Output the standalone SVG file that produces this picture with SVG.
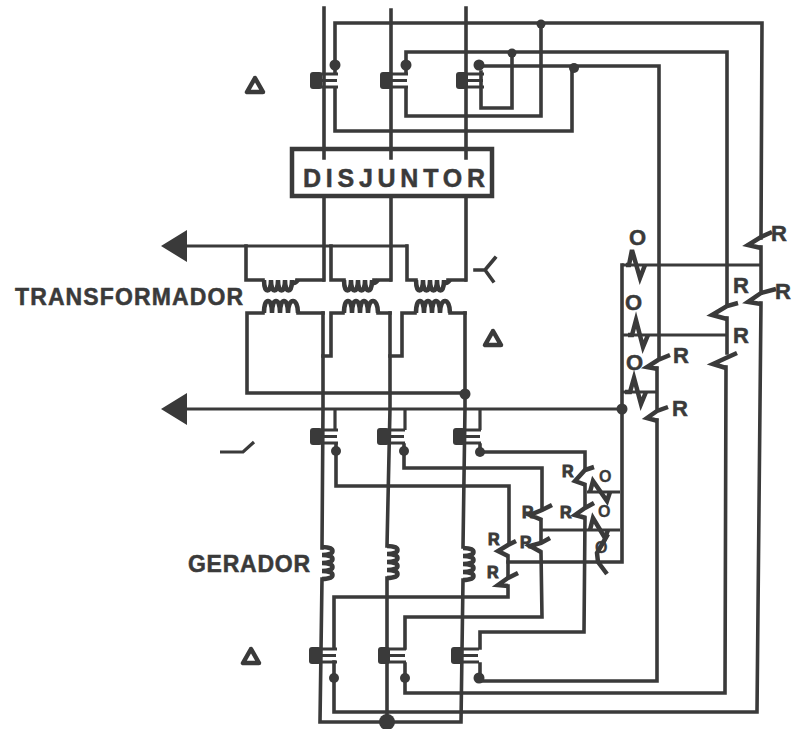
<svg xmlns="http://www.w3.org/2000/svg" xmlns:xlink="http://www.w3.org/1999/xlink" width="794" height="729" viewBox="0 0 794 729">
<style>
.w{fill:none;stroke:#3a3a3a;stroke-width:3.6;stroke-linejoin:miter;stroke-linecap:square}
.t{fill:none;stroke:#3a3a3a;stroke-width:3.2}
.c{fill:none;stroke:#3a3a3a;stroke-width:4.5}
.z{fill:none;stroke:#3a3a3a;stroke-width:4.5;stroke-linejoin:miter}
.d{fill:#3a3a3a}
text{font-family:"Liberation Sans",Arial,sans-serif;font-weight:bold;fill:#3a3a3a;stroke:#3a3a3a;stroke-width:.5}
.big{font-size:23px}
.box{font-size:25px}
.r{font-size:22px}
.s{font-size:16px;stroke-width:1}
</style>
<defs>
<marker id="head" markerUnits="userSpaceOnUse" markerWidth="27" markerHeight="34" refX="0" refY="17" orient="auto"><path d="M0,1 L26,17 L0,33 Z" fill="#3a3a3a"/></marker>
<g id="ct"><rect x="0" y="0" width="12" height="17" rx="3" class="d"/><path d="M4,2 H28 M4,8.500 H27 M4,15 H28" stroke="#3a3a3a" stroke-width="3.200" fill="none"/></g>
<path id="dn" class="c" d="M0,0 c0,14 7,14 7,0 c0,14 7,14 7,0 c0,14 7,14 7,0 c0,14 7,14 7,0 c0,4 3,4 6,0"/>
<path id="up" class="c" d="M0,0 c0,-16 8,-16 8,0 c0,-16 8,-16 8,0 c0,-16 8,-16 8,0 c0,-16 10,-16 10,0"/>
<path id="gc" class="c" d="M0,0 c14,0 14,8 0,8 c14,0 14,8 0,8 c14,0 14,8 0,8 c14,0 14,8 0,8"/>
<path id="tri" d="M0,-7 L-8,7 H8 Z" fill="none" stroke="#3a3a3a" stroke-width="4.500" stroke-linejoin="round"/>
</defs>
<rect width="794" height="729" fill="#fff"/>

<g id="connectors">
<path class="w" d="M324,8 V158 M391,10 V158 M466,8 V158"/>
<path class="w" d="M324,197 V280 M391,197 V280 M466,197 V280"/>
<path class="w" d="M323,313 V408 L322,548 M322,579 L320,722 H461 L463,580 M463,547 L465,408 V313 M390,313 V408 L387,546 M387,578 V728"/>
<path class="w" d="M335,72 V23 H762 L761,238"/>
<path class="w" d="M761,247 V290"/>
<path class="w" d="M761,303 L757,712 H334 V662"/>
<path class="w" d="M335,88 V131 H572 V68"/>
<path class="w" d="M479,66 H659 V358"/>
<path class="w" d="M406,72 V52 H727 V304"/>
<path class="w" d="M406,88 V116 H541 V25"/>
<path class="w" d="M481,72 V108 H512 V53"/>
<path class="t" d="M622,265 H761 M622,335 H727 M622,392 H657"/>
<path class="w" d="M622,265 V562 H508"/>
<path class="w" d="M727,318 V353 M726,367 L725,693 H405 V664"/>
<path class="w" d="M657,368 V408 M657,420 V681 H480 V664"/>
<path class="t" d="M408,246 H187" marker-end="url(#head)"/>
<path class="w" d="M246,246 V280 H263 M297,280 H323"/>
<path class="w" d="M331,246 V280 H344 M374,280 H390"/>
<path class="w" d="M407,246 V280 H416 M448,280 H465"/>
<path class="w" d="M263,313 H247 V393 H465 M298,313 H323"/>
<path class="w" d="M343,313 H331 V356 H323 M378,313 H390"/>
<path class="w" d="M415,313 H402 V356 H390 M450,313 H465"/>
<path class="t" d="M622,409 H187" marker-end="url(#head)"/>
<path class="t" d="M335,409 V430 M405,409 V430 M480,409 V430"/>
<path class="w" d="M336,445 V486 H509 V543"/>
<path class="w" d="M404,445 V468 H542 V508"/>
<path class="w" d="M480,445 V452 H585 V468"/>
<path class="w" d="M585,485 V505 M585,518 L584,632 H480 V648"/>
<path class="w" d="M541,520 V540 M541,552 L542,617 H405 V648"/>
<path class="w" d="M508,556 V577 M508,586 V597 H334 V648"/>
<path class="t" d="M587,492 H620 M542,530 H620"/>
</g>

<g id="disjuntor">
<rect x="292" y="149" width="200" height="47" fill="none" stroke="#3a3a3a" stroke-width="4.500"/>
<text class="box" x="303" y="187" textLength="182" lengthAdjust="spacing">DISJUNTOR</text>
</g>

<g id="ct-top"><use xlink:href="#ct" href="#ct" x="310" y="72"/><use xlink:href="#ct" href="#ct" x="380" y="72"/><use xlink:href="#ct" href="#ct" x="456" y="72"/></g>
<g id="ct-mid"><use href="#ct" xlink:href="#ct" x="310" y="428"/><use href="#ct" xlink:href="#ct" x="377" y="428"/><use href="#ct" xlink:href="#ct" x="453" y="428"/></g>
<g id="ct-bot"><use href="#ct" xlink:href="#ct" x="309" y="647"/><use href="#ct" xlink:href="#ct" x="378" y="647"/><use href="#ct" xlink:href="#ct" x="451" y="647"/></g>

<g id="junctions" class="d">
<circle cx="335" cy="65" r="5.500"/><circle cx="406" cy="65" r="5.500"/><circle cx="479" cy="65" r="5.500"/>
<circle cx="541" cy="24" r="4.500"/><circle cx="512" cy="53" r="4.500"/><circle cx="574" cy="68" r="5"/>
<circle cx="465" cy="394" r="5.500"/><circle cx="622" cy="409" r="5.500"/>
<circle cx="336" cy="451" r="5"/><circle cx="404" cy="451" r="5"/><circle cx="480" cy="452" r="5"/>
<circle cx="334" cy="678" r="5"/><circle cx="405" cy="678" r="5"/><circle cx="479" cy="678" r="5.500"/>
<circle cx="387" cy="722" r="8"/>
</g>

<g id="transformer-coils">
<use href="#dn" xlink:href="#dn" x="264" y="280"/><use href="#dn" xlink:href="#dn" x="344" y="280"/><use href="#dn" xlink:href="#dn" x="416" y="280"/>
<use href="#up" xlink:href="#up" x="264" y="313"/><use href="#up" xlink:href="#up" x="344" y="313"/><use href="#up" xlink:href="#up" x="416" y="313"/>
</g>
<g id="generator-coils">
<use href="#gc" xlink:href="#gc" x="322" y="547"/><use href="#gc" xlink:href="#gc" x="387" y="546"/><use href="#gc" xlink:href="#gc" x="463" y="548"/>
</g>

<g id="symbols">
<use href="#tri" xlink:href="#tri" x="255" y="85"/>
<use href="#tri" xlink:href="#tri" x="493" y="338"/>
<use href="#tri" xlink:href="#tri" x="251" y="656"/>
<path class="w" d="M475,270 H485 L495,258 M485,270 L493,281"/>
<path class="t" d="M220,452 H243 L254,442"/>
</g>

<g id="relays-right">
<path class="z" d="M772,232 L761,237 L748,245 L761,248"/>
<path class="z" d="M776,289 L761,293 L748,302 L761,304"/>
<path class="z" d="M738,303 L727,306 L712,315 L727,319"/>
<path class="z" d="M737,353 L726,358 L713,364 L726,368"/>
<path class="z" d="M670,355 L658,360 L647,367 L658,369"/>
<path class="z" d="M668,407 L657,411 L647,418 L658,421"/>
<path class="z" d="M626,265 H629 L632,250 L640,278 L645,265"/>
<path class="z" d="M628,335 H632 L636,320 L643,347 L648,335"/>
<path class="z" d="M625,392 H630 L634,378 L641,404 L646,392"/>
</g>

<g id="relays-lower">
<path class="z" d="M594,467 L585,470 L575,481 L586,485"/>
<path class="z" d="M594,503 L585,508 L575,515 L586,518"/>
<path class="z" d="M552,505 L542,510 L530,515 L542,520"/>
<path class="z" d="M550,538 L541,543 L530,546 L541,552"/>
<path class="z" d="M516,541 L508,545 L498,551 L508,556"/>
<path class="z" d="M518,573 L508,578 L498,585 L508,586"/>
<path class="z" d="M590,492 L593,481 L607,501 L610,492"/>
<path class="z" d="M590,530 L593,518 L605,538 L608,530"/>
<path class="z" d="M608,534 L597,553 L598,562 L607,574"/>
</g>

<g id="labels">
<text class="big" x="15" y="305" textLength="228" lengthAdjust="spacing">TRANSFORMADOR</text>
<text class="big" x="188" y="572" textLength="122" lengthAdjust="spacing">GERADOR</text>
<text class="r" x="771" y="241">R</text><text class="r" x="775" y="299">R</text>
<text class="r" x="733" y="293">R</text><text class="r" x="733" y="343">R</text>
<text class="r" x="673" y="363">R</text><text class="r" x="672" y="416">R</text>
<text class="r" x="629" y="245">O</text><text class="r" x="625" y="310">O</text><text class="r" x="626" y="370">O</text>
<text class="s" x="562" y="477">R</text><text class="s" x="560" y="518">R</text>
<text class="s" x="522" y="518">R</text><text class="s" x="520" y="548">R</text>
<text class="s" x="488" y="545">R</text><text class="s" x="487" y="578">R</text>
<text class="s" x="599" y="482" style="stroke-width:.3">O</text><text class="s" x="598" y="517" style="stroke-width:.3">O</text><text class="s" x="595" y="553" style="stroke-width:.3">O</text>
</g>
</svg>
